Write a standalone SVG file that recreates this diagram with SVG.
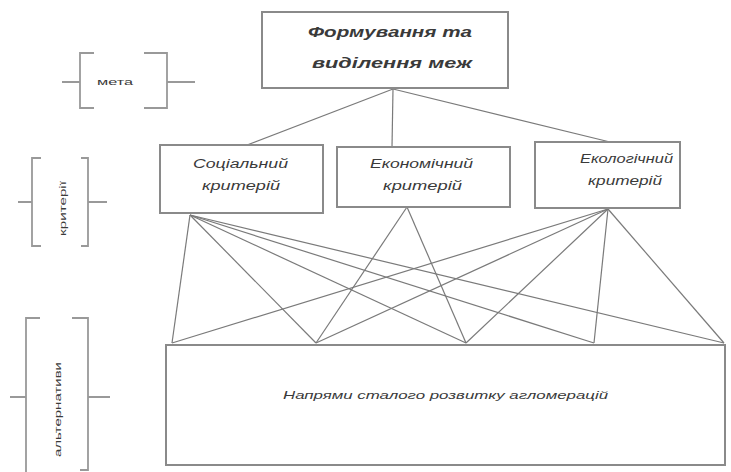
<svg xmlns="http://www.w3.org/2000/svg" width="731" height="472" viewBox="0 0 731 472">
<style>
.box{fill:#fff;stroke:#8a8a8a;stroke-width:2}
.ln{stroke:#7a7a7a;stroke-width:1.2;fill:none}
.br{stroke:#999;stroke-width:1.8;fill:none}
.t{font-family:"Liberation Sans",Arial,sans-serif;font-style:italic;fill:#3a3a3a}
.tb{font-weight:bold;font-size:15px}
.tm{font-size:12px}
.ts{font-size:9px;font-style:normal}
</style>
<rect width="731" height="472" fill="#fff"/>
<g id="connectors">
<line class="ln" x1="393" y1="89" x2="247" y2="145"/>
<line class="ln" x1="393" y1="89" x2="392" y2="147"/>
<line class="ln" x1="393" y1="89" x2="610" y2="142"/>
<line class="ln" x1="190" y1="215" x2="172" y2="343"/>
<line class="ln" x1="190" y1="215" x2="316" y2="343"/>
<line class="ln" x1="190" y1="215" x2="466" y2="343"/>
<line class="ln" x1="190" y1="215" x2="594" y2="343"/>
<line class="ln" x1="190" y1="215" x2="724" y2="343"/>
<line class="ln" x1="407" y1="207" x2="316" y2="343"/>
<line class="ln" x1="407" y1="207" x2="466" y2="343"/>
<line class="ln" x1="608" y1="209" x2="172" y2="343"/>
<line class="ln" x1="608" y1="209" x2="316" y2="343"/>
<line class="ln" x1="608" y1="209" x2="466" y2="343"/>
<line class="ln" x1="608" y1="209" x2="594" y2="343"/>
<line class="ln" x1="608" y1="209" x2="724" y2="343"/>
</g>
<g id="goal">
<rect class="box" x="262" y="12" width="246" height="76"/>
<text class="t tb" x="308" y="37" textLength="164" lengthAdjust="spacingAndGlyphs">Формування та</text>
<text class="t tb" x="312" y="68" textLength="160" lengthAdjust="spacingAndGlyphs">виділення меж</text>
</g>
<g id="social">
<rect class="box" x="160" y="145" width="163" height="68"/>
<text class="t tm" x="193" y="168" textLength="95" lengthAdjust="spacingAndGlyphs">Соціальний</text>
<text class="t tm" x="202" y="190" textLength="78" lengthAdjust="spacingAndGlyphs">критерій</text>
</g>
<g id="economic">
<rect class="box" x="337" y="147" width="173" height="60"/>
<text class="t tm" x="370" y="168" textLength="103" lengthAdjust="spacingAndGlyphs">Економічний</text>
<text class="t tm" x="383" y="190" textLength="79" lengthAdjust="spacingAndGlyphs">критерій</text>
</g>
<g id="ecological">
<rect class="box" x="535" y="142" width="145" height="66"/>
<text class="t tm" x="580" y="163" textLength="93" lengthAdjust="spacingAndGlyphs">Екологічний</text>
<text class="t tm" x="588" y="185" textLength="74" lengthAdjust="spacingAndGlyphs">критерій</text>
</g>
<g id="directions">
<rect class="box" x="166" y="345" width="559" height="120"/>
<text class="t" font-size="11" x="283" y="399" textLength="325" lengthAdjust="spacingAndGlyphs">Напрями сталого розвитку агломерацій</text>
</g>
<g id="label-goal">
<path class="br" d="M94,53H80V108H94M144,53H167V108H144"/>
<path class="br" d="M62,82H80M167,82H195"/>
<text class="t ts" x="97" y="85" textLength="36" lengthAdjust="spacingAndGlyphs">мета</text>
</g>
<g id="label-criteria">
<path class="br" d="M41,158H32V246H41M81,158H88V246H81"/>
<path class="br" d="M18,202H32M88,202H107"/>
<text class="t ts" transform="translate(66,236) rotate(-90)" x="0" y="0" textLength="55" lengthAdjust="spacingAndGlyphs">критерії</text>
</g>
<g id="label-alternatives">
<path class="br" d="M40,318H26V472M72,318H88V470H80"/>
<path class="br" d="M10,397H26M88,397H110"/>
<text class="t ts" transform="translate(61,457) rotate(-90)" x="0" y="0" textLength="95" lengthAdjust="spacingAndGlyphs">альтернативи</text>
</g>
</svg>
